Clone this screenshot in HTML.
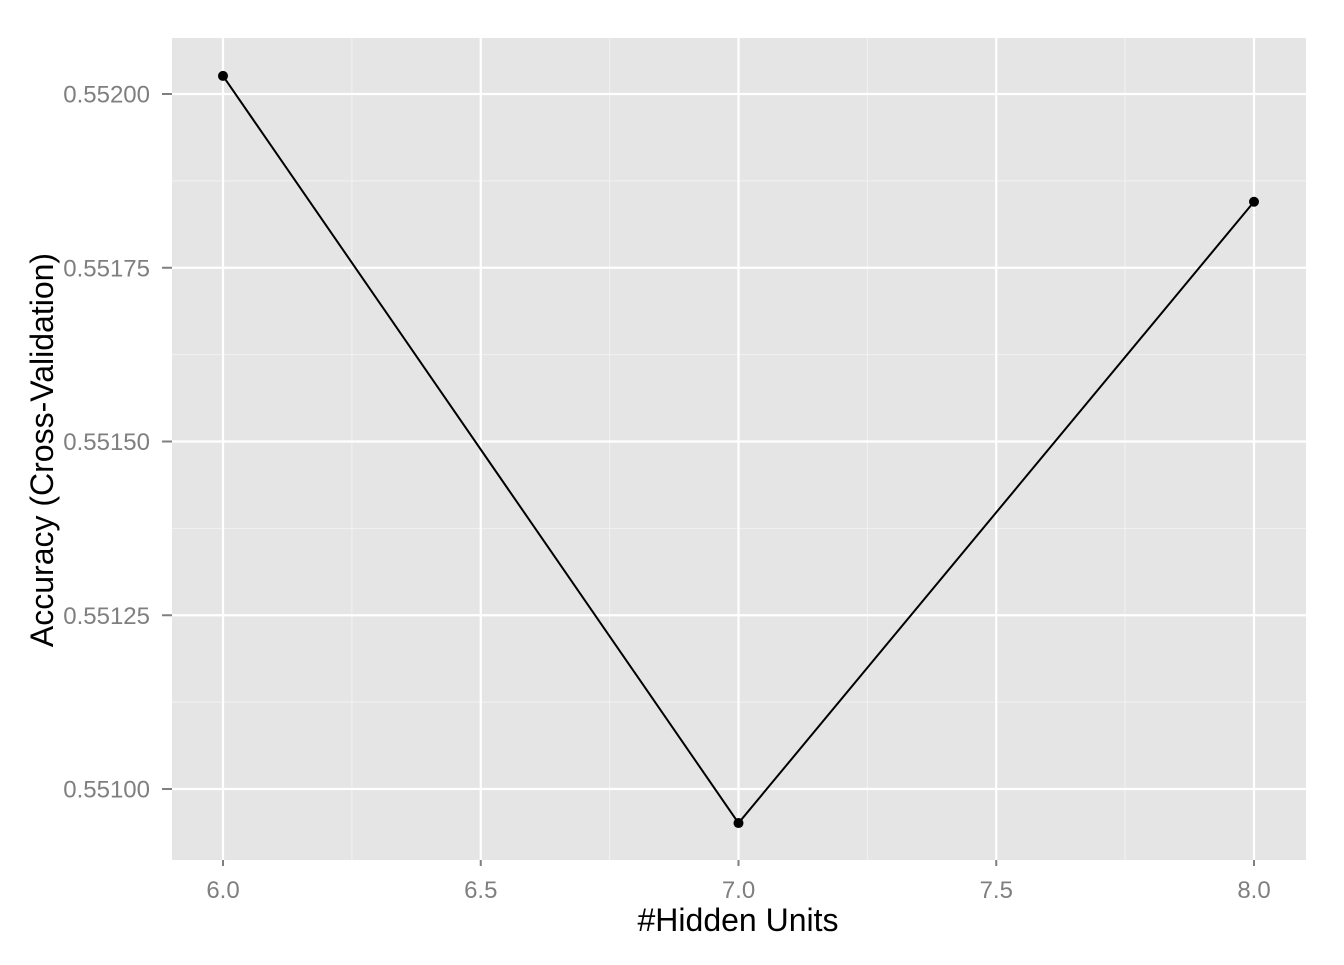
<!DOCTYPE html>
<html><head><meta charset="utf-8"><style>
body{margin:0;background:#fff;font-family:"Liberation Sans",sans-serif}
</style></head><body>
<svg id="chart" width="1344" height="960" xmlns="http://www.w3.org/2000/svg">
<rect x="0" y="0" width="1344" height="960" fill="#fff"/>
<rect x="172" y="38" width="1134" height="822" fill="#e5e5e5"/>
<g id="grid"></g><g id="axes"></g><g id="marks"></g>
<text x="738" y="931" font-size="32" text-anchor="middle" fill="#000">#Hidden Units</text>
<text transform="translate(53,450) rotate(-90)" font-size="32" text-anchor="middle" fill="#000">Accuracy (Cross-Validation)</text>
</svg>
<script>
const hiddenUnits = [6, 7, 8];
const accuracy = [0.552026, 0.550951, 0.551845];
const xTicks = [6.0, 6.5, 7.0, 7.5, 8.0];
const xTickLabels = ["6.0", "6.5", "7.0", "7.5", "8.0"];
const yTicks = [0.551, 0.55125, 0.5515, 0.55175, 0.552];
const yTickLabels = ["0.55100", "0.55125", "0.55150", "0.55175", "0.55200"];

const NS = "http://www.w3.org/2000/svg";
const X = v => 223 + (v - 6) * 515.5;
const Y = v => 789 - (v - 0.551) / 0.00025 * 173.75;
function mk(tag, attrs, parent){const e=document.createElementNS(NS,tag);for(const k in attrs)e.setAttribute(k,attrs[k]);parent.appendChild(e);return e;}
const grid=document.getElementById('grid'), axes=document.getElementById('axes'), marks=document.getElementById('marks');

for(let i=0;i<xTicks.length-1;i++){
  const m=(xTicks[i]+xTicks[i+1])/2;
  const l=mk('line',{x1:X(m),x2:X(m),y1:38,y2:860,stroke:'#f2f2f2','stroke-width':1},grid);
  
  
}
for(let i=0;i<yTicks.length;i++){
  const m=yTicks[i]+0.000125;
  const yy=Y(m);
  if(yy<38||yy>860) continue;
  const l=mk('line',{x1:172,x2:1306,y1:yy,y2:yy,stroke:'#f2f2f2','stroke-width':1},grid);
  
  
}
xTicks.forEach((t,i)=>{
  const l=mk('line',{x1:X(t),x2:X(t),y1:38,y2:860,stroke:'#fff','stroke-width':2.2},grid);
  
  
  const tk=mk('line',{x1:X(t),x2:X(t),y1:860,y2:866,stroke:'#7f7f7f','stroke-width':2},axes);
  
  
  const tx=mk('text',{x:X(t),y:898,'font-size':24,'text-anchor':'middle',fill:'#7f7f7f'},axes);
  tx.textContent=xTickLabels[i];
  
  
});
yTicks.forEach((t,i)=>{
  const l=mk('line',{x1:172,x2:1306,y1:Y(t),y2:Y(t),stroke:'#fff','stroke-width':2.2},grid);
  
  
  const tk=mk('line',{x1:162,x2:172,y1:Y(t),y2:Y(t),stroke:'#7f7f7f','stroke-width':2},axes);
  
  
  const tx=mk('text',{x:150,y:Y(t)+8.5,'font-size':24,'text-anchor':'end',fill:'#7f7f7f'},axes);
  tx.textContent=yTickLabels[i];
  
  
});
const pts=hiddenUnits.map((h,i)=>X(h)+','+Y(accuracy[i])).join(' ');
const pl=mk('polyline',{points:pts,fill:'none',stroke:'#000','stroke-width':2},marks);


hiddenUnits.forEach((h,i)=>{
  const c=mk('circle',{cx:X(h),cy:Y(accuracy[i]),r:5,fill:'#000'},marks);
  
  
});
</script>
</body></html>
